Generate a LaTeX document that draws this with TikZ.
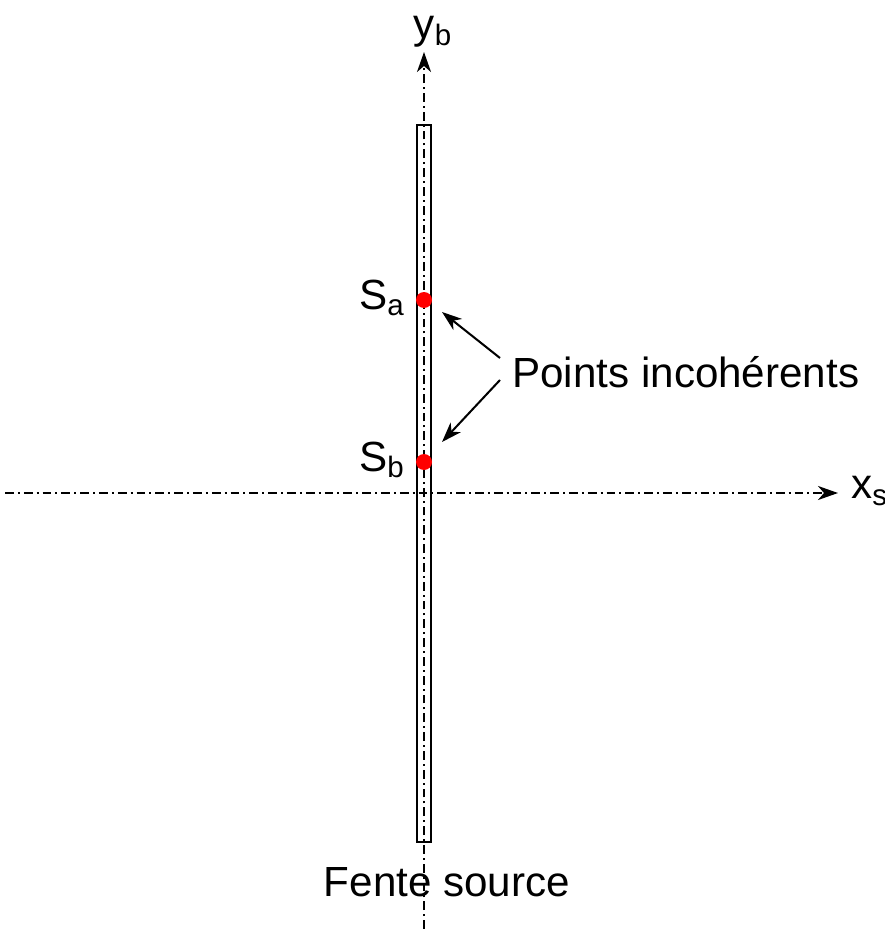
\documentclass[tikz,border=0pt]{standalone}
\usepackage{fontspec}
\setmainfont{Liberation Sans}
\usetikzlibrary{arrows.meta}

\begin{document}
\begin{tikzpicture}[x=0.02cm, y=-0.02cm, every node/.style={font=\fontsize{24}{28}\selectfont, inner sep=0pt}, >={Stealth[length=4mm, width=2.8mm, inset=1.2mm]}, ax/.style={line width=1.15pt, dash pattern=on 5pt off 2.3pt on 1.1pt off 2.3pt}, pt/.style={circle, fill=red, minimum size=0.32cm}]
	\useasboundingbox (0,0) rectangle (885,929);
	\coordinate (ybot) at (424,929);
	\coordinate (ytop) at (424,52);
	\coordinate (xl) at (5,493);
	\coordinate (xr) at (838,493);
	\draw[line width=1.15pt] (417,125) rectangle (431,842);
	\draw[ax, ->] (ybot) -- (ytop);
	\draw[ax, ->] (xl) -- (xr);
	\node (yb) at (433,32) {y\textsubscript{b}};
	\node[anchor=west] (xs) at (851,491) {x\textsubscript{s}};
	\node[pt] (sa) at (424,300) {};
	\node[pt] (sb) at (424,462) {};
	\node (la) at (382,298) {S\textsubscript{a}};
	\node (lb) at (382,460) {S\textsubscript{b}};
	\node[anchor=west] (pts) at (512,372) {Points incohérents};
	\coordinate (p1) at (500,358);
	\coordinate (p2) at (500,380);
	\coordinate (a1) at (442,312);
	\coordinate (a2) at (442,442);
	\draw[->, line width=1.15pt] (p1) -- (a1);
	\draw[->, line width=1.15pt] (p2) -- (a2);
	\node (fente) at (447,882) {Fente source};
\end{tikzpicture}
\end{document}
